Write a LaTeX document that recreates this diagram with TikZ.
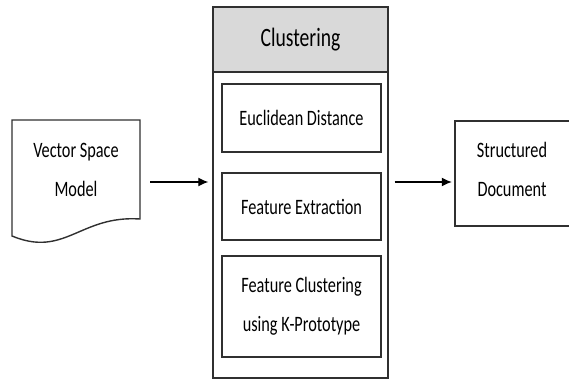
\documentclass[tikz,border=0pt]{standalone}
\usepackage{fontspec}
\setmainfont{Carlito}[FakeStretch=0.74]
\usetikzlibrary{arrows.meta}
\definecolor{edge}{HTML}{303030}
\definecolor{headfill}{HTML}{D9D9D9}
\tikzset{
  x=1pt, y=1pt,
  frame/.style={draw=edge, line width=1.4pt},
  stepbox/.style={frame, minimum width=159pt, inner sep=0pt, align=center,
    font=\fontsize{22}{39}\selectfont},
  label/.style={inner sep=0pt, align=center, font=\fontsize{22}{39}\selectfont},
  arrow/.style={draw=black, line width=1.3pt, -{Latex[length=10pt,width=9pt]}}
}
\begin{document}
\begin{tikzpicture}
\useasboundingbox (0,0) rectangle (569,-379);

% clustering container with its grey title band
\node[frame, minimum width=175pt, minimum height=371pt, inner sep=0pt] (outer) at (300.5,-192.5) {};
\node[frame, fill=headfill, minimum width=175pt, minimum height=65pt, inner sep=0pt,
  font=\fontsize{26.5}{30}\selectfont] (head) at (300.5,-39.5) {Clustering};

% the three processing steps
\node[stepbox, minimum height=68pt] (euc) at (301.5,-118) {Euclidean Distance};
\node[stepbox, minimum height=67pt] (fex) at (301.5,-206.5) {Feature Extraction};
\node[stepbox, minimum height=101pt, text depth=4pt] (fcl) at (301.5,-306.5) {Feature Clustering\\using K-Prototype};

% input document with wavy lower edge
\draw[frame] (12,-120) -- (140,-120) -- (140,-219)
  .. controls (80,-215) and (65,-258) .. (12,-236) -- cycle;
\node[label, minimum width=128pt] (doc) at (76,-170) {Vector Space\\Model};

% output box, running off the right edge
\draw[frame] (571,-121) -- (455,-121) -- (455,-226) -- (571,-226);
\node[label, minimum width=114pt] (sd) at (512,-169) {Structured\\Document};

% flow arrows, both at the same height
\coordinate (flow) at (0,-182);
\draw[arrow] ([xshift=10pt]doc.east |- flow) -- ([xshift=-4pt]outer.west |- flow);
\draw[arrow] ([xshift=6pt]outer.east |- flow) -- ([xshift=-3pt]sd.west |- flow);
\end{tikzpicture}
\end{document}
